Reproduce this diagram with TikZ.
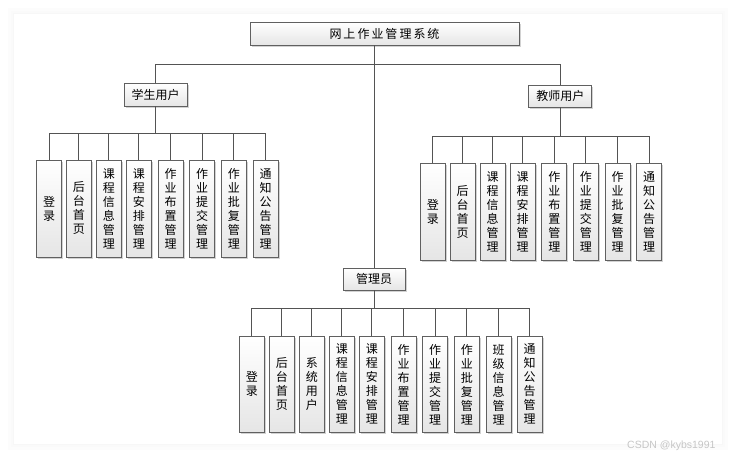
\documentclass[tikz,border=0pt]{standalone}
\usepackage{fontspec}
\setmainfont{Noto Sans CJK SC}
\newfontfamily\wmfont{Liberation Sans}
\usetikzlibrary{shadows}
\tikzset{
  box/.style={draw=gray!75!black, line width=0.8pt, top color=white, bottom color=gray!20,
    drop shadow={shadow xshift=1.5pt, shadow yshift=-1.5pt, fill=gray, opacity=0.35},
    inner sep=0pt, font=\fontsize{12}{14}\selectfont},
  hbox/.style={box, minimum height=23pt},
  leaf/.style={box, minimum width=25pt, minimum height=97pt, align=center},
  conn/.style={draw=gray!65!black, line width=1pt},
}
\begin{document}
\begin{tikzpicture}[x=1pt,y=-1pt]
\useasboundingbox (0,0) rectangle (736,458);
% card with soft shadow
\fill[gray!2] (8,8) rectangle (728,450);
\fill[gray!4] (11,11) rectangle (725,447);
\fill[gray!6] (13,13) rectangle (723,445);
\fill[white] (14,14) rectangle (722,444);

% main nodes
\node[hbox, minimum width=269pt] (root) at (384.5,33.5) {网\,上\,作\,业\,管\,理\,系\,统};
\node[hbox, minimum width=63pt] (stu) at (155.5,94.5) {学生用户};
\node[hbox, minimum width=63pt, minimum height=22pt] (tea) at (560.3,96) {教师用户};
\node[hbox, minimum width=62pt, minimum height=22pt] (adm) at (374,279) {管理员};

% student leaves
\node[leaf] (s1) at (49.2,208.5) {登\\录};
\node[leaf] (s2) at (78.8,208.5) {后\\台\\首\\页};
\node[leaf] (s3) at (108.8,208.5) {课\\程\\信\\息\\管\\理};
\node[leaf] (s4) at (138.8,208.5) {课\\程\\安\\排\\管\\理};
\node[leaf] (s5) at (170.5,208.5) {作\\业\\布\\置\\管\\理};
\node[leaf] (s6) at (202.2,208.5) {作\\业\\提\\交\\管\\理};
\node[leaf] (s7) at (233.8,208.5) {作\\业\\批\\复\\管\\理};
\node[leaf] (s8) at (265.5,208.5) {通\\知\\公\\告\\管\\理};

% teacher leaves
\node[leaf] (t1) at (432.8,211.8) {登\\录};
\node[leaf] (t2) at (462.7,211.8) {后\\台\\首\\页};
\node[leaf] (t3) at (492.7,211.8) {课\\程\\信\\息\\管\\理};
\node[leaf] (t4) at (522.7,211.8) {课\\程\\安\\排\\管\\理};
\node[leaf] (t5) at (554.3,211.8) {作\\业\\布\\置\\管\\理};
\node[leaf] (t6) at (585.8,211.8) {作\\业\\提\\交\\管\\理};
\node[leaf] (t7) at (617.7,211.8) {作\\业\\批\\复\\管\\理};
\node[leaf] (t8) at (649,211.8) {通\\知\\公\\告\\管\\理};

% admin leaves
\node[leaf, minimum height=96pt] (a1) at (251.8,384.3) {登\\录};
\node[leaf, minimum height=96pt] (a2) at (281.8,384.3) {后\\台\\首\\页};
\node[leaf, minimum height=96pt] (a3) at (311.8,384.3) {系\\统\\用\\户};
\node[leaf, minimum height=96pt] (a4) at (341.8,384.3) {课\\程\\信\\息\\管\\理};
\node[leaf, minimum height=96pt] (a5) at (371.8,384.3) {课\\程\\安\\排\\管\\理};
\node[leaf, minimum height=96pt] (a6) at (403.5,384.3) {作\\业\\布\\置\\管\\理};
\node[leaf, minimum height=96pt] (a7) at (435.2,384.3) {作\\业\\提\\交\\管\\理};
\node[leaf, minimum height=96pt] (a8) at (466.8,384.3) {作\\业\\批\\复\\管\\理};
\node[leaf, minimum height=96pt] (a9) at (498.5,384.3) {班\\级\\信\\息\\管\\理};
\node[leaf, minimum height=96pt] (a10) at (529.5,384.3) {通\\知\\公\\告\\管\\理};

% bus levels
\coordinate (yr) at (0,64);
\coordinate (ys) at (0,133);
\coordinate (yt) at (0,136);
\coordinate (ya) at (0,308);

% connectors
\draw[conn] (root.south -| adm.north) -- (adm.north);
\draw[conn] (root.south -| adm.north) |- (yr -| stu.north) -- (stu.north);
\draw[conn] (yr -| adm.north) -| (tea.north);
\foreach \i in {1,...,8} {
  \draw[conn] (stu.south) -- (stu.south |- ys) -| (s\i.north);
  \draw[conn] (tea.south) -- (tea.south |- yt) -| (t\i.north);
}
\foreach \i in {1,...,10} {
  \draw[conn] (adm.south) -- (adm.south |- ya) -| (a\i.north);
}

% watermark
\node[font=\wmfont\fontsize{10.5}{12}\selectfont, text=gray!45, anchor=east] (wm) at (719,445.5) {CSDN @kybs1991};
\end{tikzpicture}
\end{document}
